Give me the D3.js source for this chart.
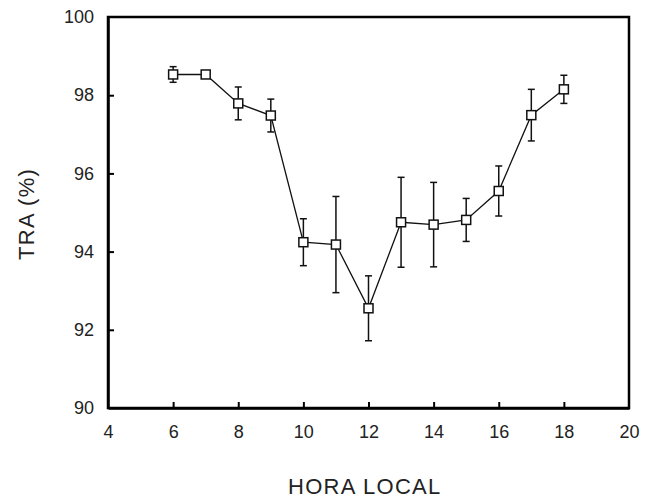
<!DOCTYPE html>
<html>
<head>
<meta charset="utf-8">
<script src="https://cdn.jsdelivr.net/npm/d3@7"></script>
<style>
  body { margin: 0; background: #fff; }
  svg { display: block; }
</style>
</head>
<body>
<div id="chart"></div>
<script>
// hora local, TRA media y error
let horas = [6, 7, 8, 9, 10, 11, 12, 13, 14, 15, 16, 17, 18];
let tra = [98.53, 98.53, 97.79, 97.48, 94.24, 94.18, 92.55, 94.75, 94.69, 94.81, 95.55, 97.49, 98.15];
let err = [0.20, 0.05, 0.42, 0.42, 0.60, 1.23, 0.83, 1.15, 1.08, 0.55, 0.64, 0.66, 0.36];
let xTicks = [4, 6, 8, 10, 12, 14, 16, 18, 20];
let yTicks = [90, 92, 94, 96, 98, 100];

let width = 656, height = 499;
let plotLeft = 108, plotRight = 629, plotTop = 17, plotBottom = 408;

let xScale = d3.scaleLinear().domain([4, 20]).range([plotLeft, plotRight]);
let yScale = d3.scaleLinear().domain([90, 100]).range([plotBottom, plotTop]);

let svg = d3.select('#chart')
    .append('svg')
    .attr('width', width)
    .attr('height', height);

// marco
svg.append('rect')
    .attr('x', plotLeft)
    .attr('y', plotTop)
    .attr('width', plotRight - plotLeft)
    .attr('height', plotBottom - plotTop)
    .attr('fill', 'none')
    .attr('stroke', '#000')
    .attr('stroke-width', 2.5);

let xAxis = svg.append('g')
    .attr('transform', 'translate(0,' + plotBottom + ')')
    .call(d3.axisBottom(xScale).tickValues(xTicks).tickSizeInner(-6).tickSizeOuter(0).tickPadding(17));

let yAxis = svg.append('g')
    .attr('transform', 'translate(' + plotLeft + ',0)')
    .call(d3.axisLeft(yScale).tickValues(yTicks).tickSizeInner(-6).tickSizeOuter(0).tickPadding(14));

[xAxis, yAxis].forEach(function(ax){
    ax.select('.domain').attr('stroke', '#000').attr('stroke-width', 2.5);
    ax.selectAll('.tick line').attr('stroke', '#000').attr('stroke-width', 2);
    ax.selectAll('.tick text')
        .attr('fill', '#222')
        .style('font-family', '"Liberation Sans", Arial, sans-serif')
        .style('font-size', '18px');
});
xAxis.selectAll('.tick').filter(d => d === 4 || d === 20).select('line').remove();
yAxis.selectAll('.tick').filter(d => d === 90 || d === 100).select('line').remove();

// linea
let line = d3.line()
    .x((d, i) => xScale(horas[i]))
    .y(d => yScale(d));

svg.append('path')
    .datum(tra)
    .attr('d', line)
    .attr('fill', 'none')
    .attr('stroke', '#111')
    .attr('stroke-width', 1.3);

// barras de error
let bars = svg.append('g')
    .selectAll('g')
    .data(horas)
    .enter()
    .append('g')
    .attr('stroke', '#111')
    .attr('stroke-width', 1.5);

bars.append('line')
    .attr('x1', d => xScale(d))
    .attr('x2', d => xScale(d))
    .attr('y1', (d, i) => yScale(tra[i] + err[i]))
    .attr('y2', (d, i) => yScale(tra[i] - err[i]));

bars.append('line')
    .attr('x1', d => xScale(d) - 3.5)
    .attr('x2', d => xScale(d) + 3.5)
    .attr('y1', (d, i) => yScale(tra[i] + err[i]))
    .attr('y2', (d, i) => yScale(tra[i] + err[i]));

bars.append('line')
    .attr('x1', d => xScale(d) - 3.5)
    .attr('x2', d => xScale(d) + 3.5)
    .attr('y1', (d, i) => yScale(tra[i] - err[i]))
    .attr('y2', (d, i) => yScale(tra[i] - err[i]));

// marcadores
svg.append('g')
    .selectAll('rect')
    .data(horas)
    .enter()
    .append('rect')
    .attr('x', d => xScale(d) - 4.5)
    .attr('y', (d, i) => yScale(tra[i]) - 4.5)
    .attr('width', 9)
    .attr('height', 9)
    .attr('fill', '#fff')
    .attr('stroke', '#111')
    .attr('stroke-width', 1.5);

// titulos
svg.append('text')
    .text('HORA LOCAL')
    .attr('x', 288)
    .attr('y', 494)
    .attr('fill', '#222')
    .style('font-family', '"Liberation Sans", Arial, sans-serif')
    .style('font-size', '22px')
    .style('letter-spacing', '1.3px');

svg.append('text')
    .text('TRA (%)')
    .attr('transform', 'translate(34,260) rotate(-90)')
    .attr('fill', '#222')
    .style('font-family', '"Liberation Sans", Arial, sans-serif')
    .style('font-size', '22px')
    .style('letter-spacing', '1.3px');
</script>
</body>
</html>
